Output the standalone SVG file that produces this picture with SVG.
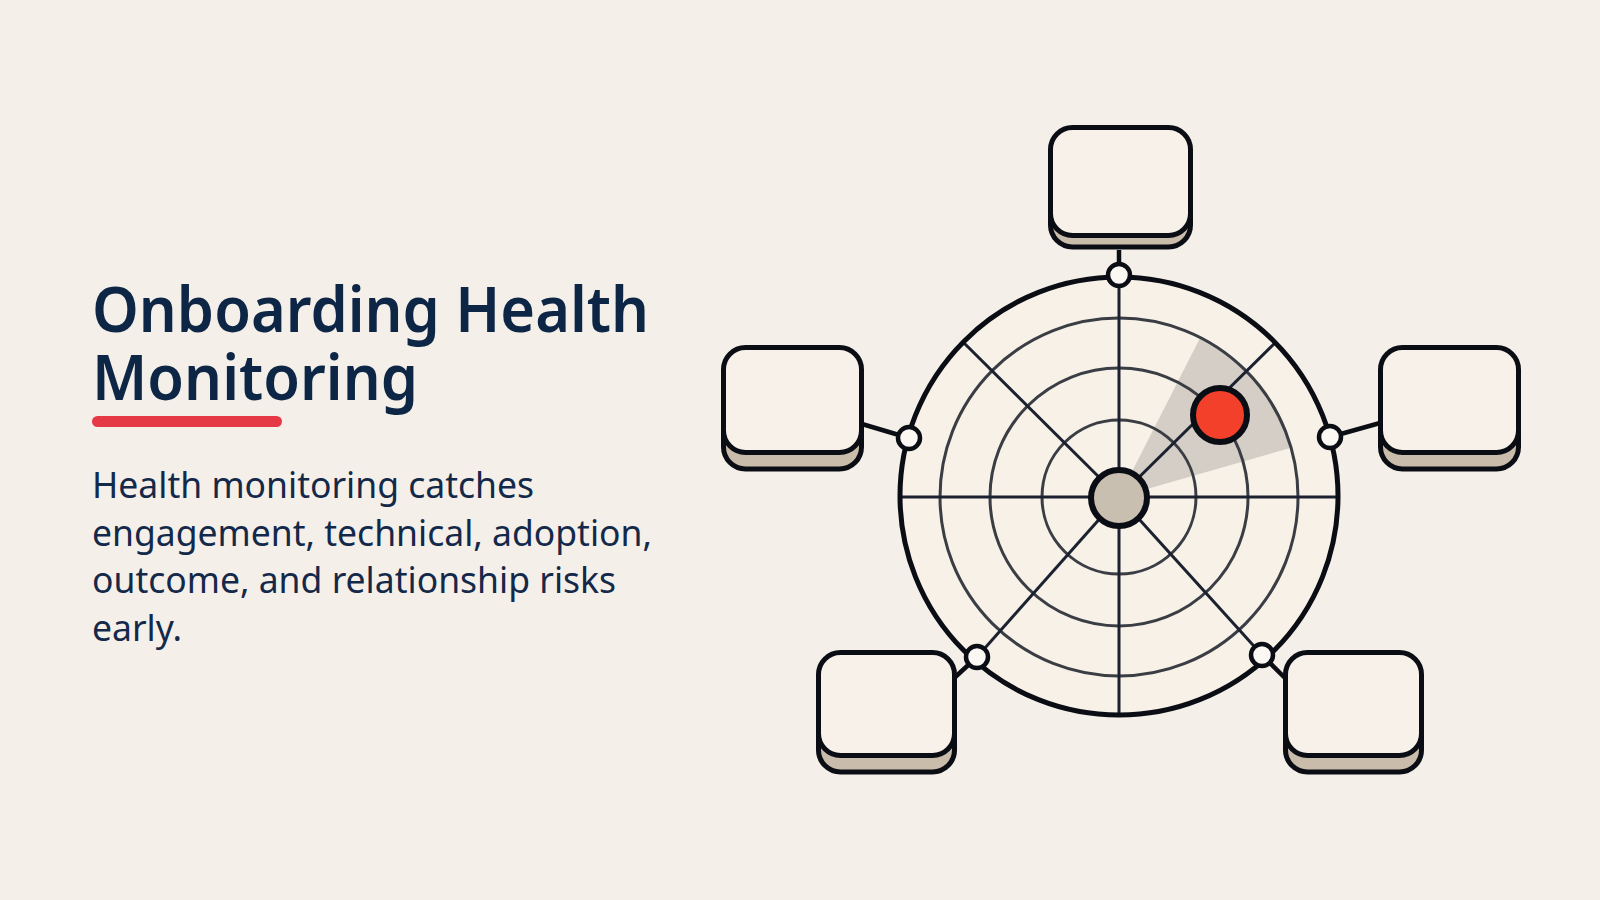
<svg xmlns="http://www.w3.org/2000/svg" width="1600" height="900" viewBox="0 0 1600 900">
  <style>
    .title { font-family: "Noto Sans", "Open Sans", sans-serif; font-size: 63px; font-weight: 600; fill: #0e2646; }
    .body { font-family: "Noto Sans", "Open Sans", sans-serif; font-size: 35.5px; fill: #14294a; }
    .ring { fill: none; stroke: #3a3e44; stroke-width: 3; }
    .spoke { stroke: #1c2130; stroke-width: 3; }
    .conn { stroke: #0b0d14; stroke-width: 4.5; fill: none; }
    .dot { fill: #fbf8f3; stroke: #0b0d14; stroke-width: 4.5; }
    .face { fill: #f7f1e9; stroke: #0b0d14; stroke-width: 5; }
    .shade { fill: #c9bcab; stroke: #0b0d14; stroke-width: 5; }
  </style>
  <rect width="1600" height="900" fill="#f4f0e9"/>

  <g id="text">
    <text class="title" x="92" y="332" textLength="557" lengthAdjust="spacingAndGlyphs">Onboarding Health</text>
    <text class="title" x="92" y="400" textLength="326" lengthAdjust="spacingAndGlyphs">Monitoring</text>
    <rect x="92" y="416" width="190" height="11" rx="5.5" fill="#e63946"/>
    <text class="body" x="92" y="498">Health monitoring catches</text>
    <text class="body" x="92" y="546">engagement, technical, adoption,</text>
    <text class="body" x="92" y="593">outcome, and relationship risks</text>
    <text class="body" x="92" y="641">early.</text>
  </g>

  <g id="radar">
    <circle cx="1119" cy="496" r="219" fill="#f7f1e8"/>
    <path d="M1119 497 L1200.3 337.5 A179 179 0 0 1 1291.1 447.7 Z" fill="#a9a49e" opacity="0.45"/>
    <circle class="ring" cx="1119" cy="497" r="77"/>
    <circle class="ring" cx="1119" cy="497" r="129"/>
    <circle class="ring" cx="1119" cy="497" r="179"/>
    <line class="spoke" x1="1119" y1="277" x2="1119" y2="715"/>
    <line class="spoke" x1="900" y1="497" x2="1338" y2="497"/>
    <line class="spoke" x1="1119" y1="497" x2="963" y2="342"/>
    <line class="spoke" x1="1119" y1="497" x2="1276" y2="342"/>
    <line class="spoke" x1="1119" y1="497" x2="977" y2="657"/>
    <line class="spoke" x1="1119" y1="497" x2="1262" y2="655"/>
    <circle cx="1119" cy="496" r="219" fill="none" stroke="#0b0d14" stroke-width="5"/>
  </g>

  <g id="connectors">
    <line class="conn" x1="1119" y1="250" x2="1119" y2="277"/>
    <line class="conn" x1="862" y1="424" x2="909" y2="438"/>
    <line class="conn" x1="1330" y1="437" x2="1380" y2="423"/>
    <line class="conn" x1="977" y1="657" x2="952" y2="680"/>
    <line class="conn" x1="1262" y1="655" x2="1287" y2="680"/>
  </g>

  <g id="ports">
    <circle class="dot" cx="1119" cy="275" r="11"/>
    <circle class="dot" cx="909" cy="438" r="11"/>
    <circle class="dot" cx="1330" cy="437" r="11"/>
    <circle class="dot" cx="977" cy="657" r="11"/>
    <circle class="dot" cx="1262" cy="655" r="11"/>
  </g>

  <g id="hub">
    <circle cx="1119" cy="498" r="28" fill="#c9bfb1" stroke="#0b0d14" stroke-width="6"/>
  </g>
  <g id="signal">
    <circle cx="1220" cy="415" r="27" fill="#f2402a" stroke="#0b0d14" stroke-width="6"/>
  </g>

  <g id="node-top">
    <rect class="shade" x="1050.5" y="140" width="140" height="107" rx="22"/>
    <rect class="face" x="1050.5" y="127.5" width="140" height="108" rx="22"/>
  </g>
  <g id="node-left">
    <rect class="shade" x="723.5" y="362" width="138" height="107" rx="22"/>
    <rect class="face" x="723.5" y="347.5" width="138" height="105" rx="22"/>
  </g>
  <g id="node-right">
    <rect class="shade" x="1380.5" y="362" width="138" height="107" rx="22"/>
    <rect class="face" x="1380.5" y="347.5" width="138" height="105" rx="22"/>
  </g>
  <g id="node-bottom-left">
    <rect class="shade" x="818.5" y="665" width="136" height="107" rx="22"/>
    <rect class="face" x="818.5" y="652.5" width="136" height="103" rx="22"/>
  </g>
  <g id="node-bottom-right">
    <rect class="shade" x="1285.5" y="665" width="136" height="107" rx="22"/>
    <rect class="face" x="1285.5" y="652.5" width="136" height="103" rx="22"/>
  </g>
</svg>
